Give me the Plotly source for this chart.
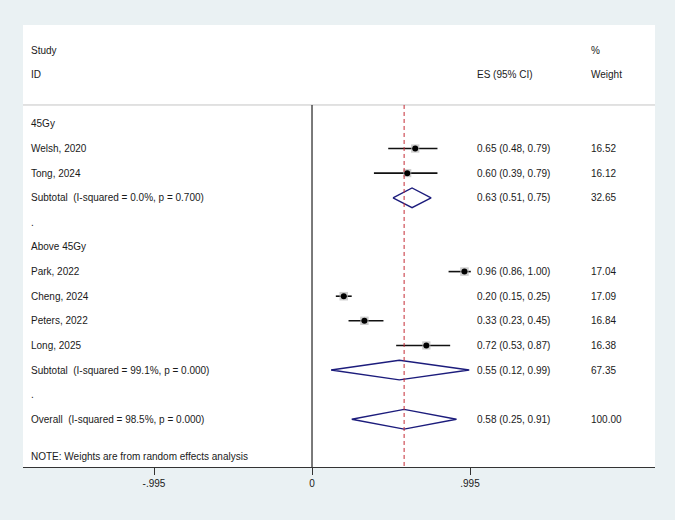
import plotly.graph_objects as go

# ---- data ----
group_labels = ["45Gy", "Above 45Gy"]
studies = ["Welsh, 2020", "Tong, 2024", "Park, 2022", "Cheng, 2024", "Peters, 2022", "Long, 2025"]
study_group = [0, 0, 1, 1, 1, 1]
es = [0.65, 0.60, 0.96, 0.20, 0.33, 0.72]
lo = [0.48, 0.39, 0.86, 0.15, 0.23, 0.53]
hi = [0.79, 0.79, 1.00, 0.25, 0.45, 0.87]
weight = [16.52, 16.12, 17.04, 17.09, 16.84, 16.38]

sub_labels = ["Subtotal  (I-squared = 0.0%, p = 0.700)", "Subtotal  (I-squared = 99.1%, p = 0.000)"]
sub_es = [0.63, 0.55]
sub_lo = [0.51, 0.12]
sub_hi = [0.75, 0.99]
sub_w = [32.65, 67.35]

overall_label = "Overall  (I-squared = 98.5%, p = 0.000)"
ov_es, ov_lo, ov_hi, ov_w = 0.58, 0.25, 0.91, 100.00

note = "NOTE: Weights are from random effects analysis"
tick_vals = [-0.995, 0, 0.995]
tick_text = ["-.995", "0", ".995"]

# ---- build rows ----
rows = []  # (label, kind, idx)
for g, gl in enumerate(group_labels):
    rows.append((gl, "group", g))
    for i, s in enumerate(studies):
        if study_group[i] == g:
            rows.append((s, "study", i))
    rows.append((sub_labels[g], "sub", g))
    rows.append((".", "blank", None))
rows.append((overall_label, "overall", None))

FONT = "Liberation Sans, Arial, Helvetica, sans-serif"
TXT = "#1a1a1a"
FS = 10
X_LABEL, X_ES, X_W = -1.782, 1.027, 1.743
Y_TOP, Y_BOT = -4.02, 13.94
HDR_LINE = -0.77
NAVY = "#1c1c7c"

fig = go.Figure()
ann = []

def add_text(x, y, t):
    ann.append(dict(x=x, y=y, xref="x", yref="y", text=t, showarrow=False,
                    xanchor="left", yanchor="middle",
                    font=dict(family=FONT, size=FS, color=TXT)))

add_text(X_LABEL, -3, "Study")
add_text(X_LABEL, -2, "ID")
add_text(X_ES, -2, "ES (95% CI)")
add_text(X_W, -3, "%")
add_text(X_W, -2, "Weight")

ci_x, ci_y, pt_x, pt_y, box_s = [], [], [], [], []
for r, (label, kind, idx) in enumerate(rows):
    add_text(X_LABEL, r, label)
    if kind == "study":
        ci_x += [lo[idx], hi[idx], None]
        ci_y += [r, r, None]
        pt_x.append(es[idx]); pt_y.append(r); box_s.append(weight[idx])
        add_text(X_ES, r, f"{es[idx]:.2f} ({lo[idx]:.2f}, {hi[idx]:.2f})")
        add_text(X_W, r, f"{weight[idx]:.2f}")
    elif kind in ("sub", "overall"):
        if kind == "sub":
            e, l, h, w = sub_es[idx], sub_lo[idx], sub_hi[idx], sub_w[idx]
        else:
            e, l, h, w = ov_es, ov_lo, ov_hi, ov_w
        dh = 0.4
        fig.add_trace(go.Scatter(x=[l, e, h, e, l], y=[r, r - dh, r, r + dh, r],
                                 mode="lines", line=dict(color=NAVY, width=1.4),
                                 hoverinfo="skip", showlegend=False))
        add_text(X_ES, r, f"{e:.2f} ({l:.2f}, {h:.2f})")
        add_text(X_W, r, f"{w:.2f}")

add_text(X_LABEL, 13.5, note)

# CI lines
fig.add_trace(go.Scatter(x=ci_x, y=ci_y, mode="lines", line=dict(color="#111111", width=1.6),
                         hoverinfo="skip", showlegend=False))
# weight boxes
fig.add_trace(go.Scatter(x=pt_x, y=pt_y, mode="markers",
                         marker=dict(symbol="square", color="#b8b8b8",
                                     size=[w * 0.5 for w in box_s], line=dict(width=0)),
                         hoverinfo="skip", showlegend=False))
# point estimates
fig.add_trace(go.Scatter(x=pt_x, y=pt_y, mode="markers",
                         marker=dict(symbol="circle", color="#000000", size=6),
                         hoverinfo="skip", showlegend=False))

shapes = [
    dict(type="line", xref="paper", yref="y", x0=0, x1=1, y0=HDR_LINE, y1=HDR_LINE,
         line=dict(color="#c4c4c4", width=1)),
    dict(type="line", xref="x", yref="y", x0=0, x1=0, y0=HDR_LINE, y1=Y_BOT,
         line=dict(color="#222222", width=1.2)),
    dict(type="line", xref="x", yref="y", x0=ov_es, x1=ov_es, y0=HDR_LINE, y1=Y_BOT,
         line=dict(color="#c42a34", width=1, dash="4px,3px")),
]

fig.update_layout(
    width=675, height=520,
    margin=dict(l=23, r=20, t=25, b=53),
    paper_bgcolor="#eaf1f3", plot_bgcolor="#ffffff",
    annotations=ann, shapes=shapes,
    xaxis=dict(range=[-1.82, 2.16], showgrid=False, zeroline=False,
               showline=True, linecolor="#333333", linewidth=1,
               ticks="outside", ticklen=7, tickcolor="#333333",
               tickvals=tick_vals, ticktext=tick_text,
               tickfont=dict(family=FONT, size=FS, color=TXT), fixedrange=True),
    yaxis=dict(range=[Y_BOT, Y_TOP], showgrid=False, zeroline=False,
               showticklabels=False, showline=False, fixedrange=True),
    showlegend=False,
)

fig.write_html("out.html")
